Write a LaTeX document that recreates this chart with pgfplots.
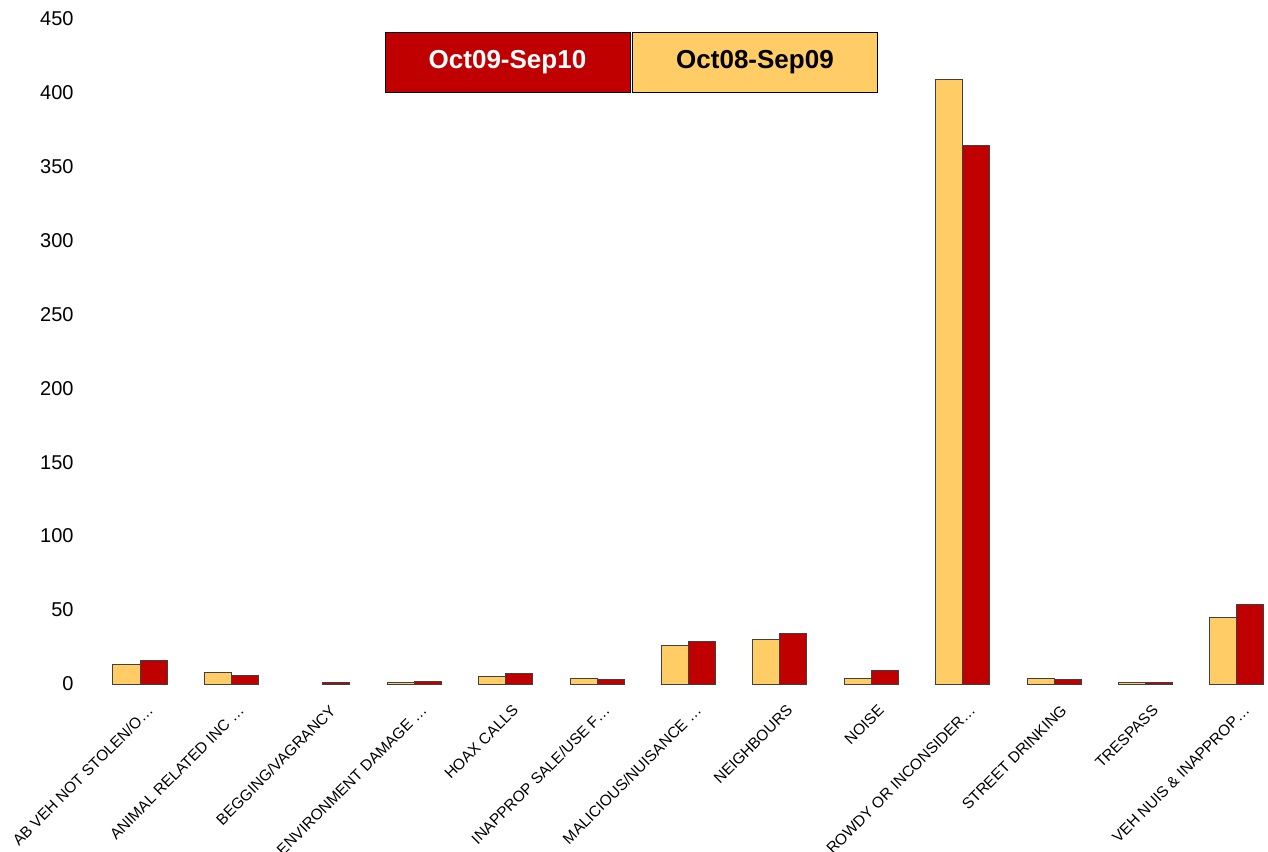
\documentclass[border=0pt]{standalone}
\usepackage{fontspec}
\setmainfont{Liberation Sans}
\usepackage{pgfplots}
\pgfplotsset{compat=1.18}
\definecolor{barred}{RGB}{192,0,0}
\definecolor{baryellow}{RGB}{255,204,102}
\definecolor{baredge}{RGB}{64,64,64}
\begin{document}
\begin{tikzpicture}
\begin{axis}[
  x=45.7pt, y=0.7395pt,
  xmin=-0.65, xmax=12.4, ymin=0, ymax=450,
  ybar=0pt, bar width=13.5pt,
  axis line style={draw=none},
  major tick length=0pt,
  clip=false,
  xtick={0,1,2,3,4,5,6,7,8,9,10,11,12},
  xticklabels={AB VEH NOT STOLEN/O\ldots,ANIMAL RELATED INC \ldots,BEGGING/VAGRANCY,ENVIRONMENT DAMAGE \ldots,HOAX CALLS,INAPPROP SALE/USE F\ldots,MALICIOUS/NUISANCE \ldots,NEIGHBOURS,NOISE,ROWDY OR INCONSIDER\ldots,STREET DRINKING,TRESPASS,VEH NUIS \& INAPPROP\ldots},
  xticklabel style={xshift=3pt, yshift=-5pt, rotate=45, anchor=north east, font=\fontsize{7.7}{9}\selectfont},
  ytick={0,50,100,150,200,250,300,350,400,450},
  /pgf/number format/assume math mode=true,
  yticklabel style={font=\fontsize{10}{12}\selectfont},
]
\addplot[fill=baryellow, draw=baredge, line width=0.5pt] coordinates {
  (0,13) (1,8) (3,1) (4,5) (5,4) (6,26) (7,30) (8,4) (9,409) (10,4) (11,1) (12,45)
};
\addplot[fill=barred, draw=baredge, line width=0.5pt] coordinates {
  (0,16) (1,6) (2,1) (3,2) (4,7) (5,3) (6,29) (7,34) (8,9) (9,364) (10,3) (11,1) (12,54)
};
\coordinate (o) at (axis cs:0,0);
\end{axis}
\node[draw=black, fill=barred, minimum width=122.5pt, minimum height=30pt, inner sep=0pt,
  text=white, font=\bfseries\fontsize{13}{15}\selectfont] at ([shift={(183.75pt,311pt)}]o) {Oct09-Sep10};
\node[draw=black, fill=baryellow, minimum width=122.5pt, minimum height=30pt, inner sep=0pt,
  text=black, font=\bfseries\fontsize{13}{15}\selectfont] at ([shift={(307.5pt,311pt)}]o) {Oct08-Sep09};
\pgfresetboundingbox
\useasboundingbox ([shift={(-70pt,-83.5pt)}]o) rectangle ([shift={(564pt,342pt)}]o);
\end{tikzpicture}
\end{document}
